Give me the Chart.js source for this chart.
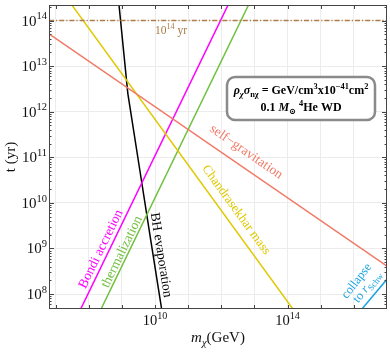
<!DOCTYPE html>
<html>
<head>
<meta charset="utf-8">
<script src="https://cdn.jsdelivr.net/npm/chart.js@4.4.0/dist/chart.umd.min.js"></script>
<style>
  html, body { margin: 0; padding: 0; background: #fff; }
  #wrap { width: 390px; height: 353px; }
</style>
</head>
<body>
<div id="wrap"><canvas id="chart"></canvas></div>
<script>
// ---------------- DATA (m_chi in GeV, t in yr) ----------------
const selfGravM = [6.3e6, 1e17];
const selfGravT = [5.1e13, 4.1e8];

const chandraM = [1e7, 1e15];
const chandraT = [6.8e14, 6.8e6];

const bondiM = [3.16e7, 3.16e12];
const bondiT = [1.94e7, 6.13e14];

const thermM = [1e8, 1e13];
const thermT = [1.3e7, 4.1e14];

const bhEvapM = [7.08e8, 8.17e8, 1.51e9, 3.16e9, 7.41e9, 1.58e10, 1.78e10];
const bhEvapT = [6.3e14, 2.2e14, 2.5e12, 8.1e10, 1.53e9, 4.7e7, 2.75e7];

const collapseM = [1e16, 3.16e17];
const collapseT = [2.9e7, 5.7e8];

const ageM = [6.3e6, 1e17];
const ageT = [1e14, 1e14];

const xRange = [6.3e6, 1e17];
const yRange = [4.7e7, 2.2e14];
const xDecades = [7, 8, 9, 10, 11, 12, 13, 14, 15, 16];
const xLabelled = [10, 14];
const yDecades = [8, 9, 10, 11, 12, 13, 14];

const SERIF = '"Liberation Serif", "DejaVu Serif", serif';

function pts(xs, ys) { return xs.map((x, i) => ({ x: x, y: ys[i] })); }

function line(label, xs, ys, color, extra) {
    return Object.assign({
        label: label,
        data: pts(xs, ys),
        borderColor: color,
        borderWidth: 1.5,
        pointRadius: 0,
        fill: false,
        tension: 0
    }, extra || {});
}

// ---- rich text helper: segments {t, f:'n'|'i'|'b'|'bi', s:0|1(sup)|-1(sub)} ----
function fontOf(sg, size) {
    const sz = sg.s ? size * 0.7 : size;
    const st = (sg.f || 'n');
    const italic = st.indexOf('i') >= 0 ? 'italic ' : '';
    const bold = st.indexOf('b') >= 0 ? 'bold ' : '';
    return italic + bold + sz.toFixed(1) + 'px ' + SERIF;
}
function richWidth(ctx, segs, size) {
    let w = 0;
    segs.forEach(sg => { ctx.font = fontOf(sg, size); w += ctx.measureText(sg.t).width; });
    return w;
}
function richText(ctx, segs, x, y, size, align) {
    const w = richWidth(ctx, segs, size);
    let cx = align === 'right' ? x - w : align === 'center' ? x - w / 2 : x;
    ctx.textAlign = 'left';
    ctx.textBaseline = 'alphabetic';
    segs.forEach(sg => {
        ctx.font = fontOf(sg, size);
        const dy = sg.s === 1 ? -size * 0.42 : sg.s === -1 ? size * 0.25 : 0;
        ctx.fillText(sg.t, cx, y + dy);
        cx += ctx.measureText(sg.t).width;
    });
}

// ---------------- LABELS ON THE CURVES ----------------
const curveLabels = [
    { text: 'Bondi accretion', m: 2.34e8, t: 9.7e8, angle: -64, color: '#ff00ff', size: 13.5 },
    { text: 'thermalization', m: 1.0e9, t: 8.4e8, angle: -64, color: '#72c040', size: 13.5 },
    { text: 'BH evaporation', m: 1.5e10, t: 7.2e8, angle: 81, color: '#000000', size: 13.5 },
    { text: 'Chandrasekhar mass', m: 2.8e12, t: 7.0e9, angle: 54, color: '#e0c800', size: 13 },
    { text: 'self\u2212gravitation', m: 5.6e12, t: 1.31e11, angle: 34.6, color: '#f07a68', size: 13.5 }
];

const overlay = {
    id: 'overlay',
    afterDatasetsDraw(chart) {
        const ctx = chart.ctx;
        const xs = chart.scales.x, ys = chart.scales.y;
        const a = chart.chartArea;
        ctx.save();

        // curve labels
        curveLabels.forEach(l => {
            ctx.save();
            ctx.translate(xs.getPixelForValue(l.m), ys.getPixelForValue(l.t));
            ctx.rotate(l.angle * Math.PI / 180);
            ctx.fillStyle = l.color;
            ctx.font = l.size + 'px ' + SERIF;
            ctx.textAlign = 'center';
            ctx.textBaseline = 'middle';
            ctx.fillText(l.text, 0, 0);
            ctx.restore();
        });

        // collapse to r_Schw (two lines)
        ctx.save();
        ctx.translate(xs.getPixelForValue(1.7e16), ys.getPixelForValue(1.6e8));
        ctx.rotate(-52 * Math.PI / 180);
        ctx.fillStyle = '#1aa3e0';
        ctx.font = '12.5px ' + SERIF;
        ctx.textAlign = 'center';
        ctx.textBaseline = 'middle';
        ctx.fillText('collapse', 0, -6);
        richText(ctx, [{ t: 'to ' }, { t: 'r', f: 'i' }, { t: 'Schw', s: -1 }], 2, 9, 12.5, 'center');
        ctx.restore();

        // 10^14 yr
        ctx.fillStyle = '#a97a45';
        richText(ctx, [{ t: '10' }, { t: '14', s: 1 }, { t: ' yr' }],
            xs.getPixelForValue(3.04e10), ys.getPixelForValue(6.25e13) + 4, 11.5, 'center');

        // info box
        const bx = 227, by = 77, bw = 148, bh = 43, r = 8;
        ctx.beginPath();
        ctx.moveTo(bx + r, by);
        ctx.arcTo(bx + bw, by, bx + bw, by + bh, r);
        ctx.arcTo(bx + bw, by + bh, bx, by + bh, r);
        ctx.arcTo(bx, by + bh, bx, by, r);
        ctx.arcTo(bx, by, bx + bw, by, r);
        ctx.closePath();
        ctx.fillStyle = '#ffffff';
        ctx.fill();
        ctx.lineWidth = 2.5;
        ctx.strokeStyle = '#8a8a8a';
        ctx.stroke();
        ctx.fillStyle = '#000';
        richText(ctx, [
            { t: '\u03c1', f: 'bi' }, { t: '\u03c7', f: 'bi', s: -1 },
            { t: '\u03c3', f: 'bi' }, { t: 'n\u03c7', f: 'b', s: -1 },
            { t: ' = GeV/cm', f: 'b' }, { t: '3', f: 'b', s: 1 },
            { t: 'x10', f: 'b' }, { t: '\u221241', f: 'b', s: 1 },
            { t: 'cm', f: 'b' }, { t: '2', f: 'b', s: 1 }
        ], bx + bw / 2, by + 17, 12, 'center');
        richText(ctx, [
            { t: '0.1 ', f: 'b' }, { t: 'M', f: 'bi' }, { t: '\u2299', f: 'b', s: -1 },
            { t: ' ', f: 'b' }, { t: '4', f: 'b', s: 1 }, { t: 'He WD', f: 'b' }
        ], bx + bw / 2, by + 34, 12, 'center');

        // frame
        ctx.strokeStyle = '#444';
        ctx.lineWidth = 1;
        ctx.strokeRect(a.left + 0.5, a.top + 0.5, a.right - a.left - 1, a.bottom - a.top - 1);

        // ticks
        ctx.beginPath();
        xDecades.forEach(d => {
            const px = Math.round(xs.getPixelForValue(Math.pow(10, d))) + 0.5;
            ctx.moveTo(px, a.bottom); ctx.lineTo(px, a.bottom - 4);
            ctx.moveTo(px, a.top); ctx.lineTo(px, a.top + 4);
        });
        for (let d = 7; d <= 14; d++) {
            for (let k = 1; k <= 9; k++) {
                const v = k * Math.pow(10, d);
                if (v < yRange[0] || v > yRange[1]) continue;
                const py = Math.round(ys.getPixelForValue(v)) + 0.5;
                const len = k === 1 ? 5 : 2.5;
                ctx.moveTo(a.left, py); ctx.lineTo(a.left + len, py);
                ctx.moveTo(a.right, py); ctx.lineTo(a.right - len, py);
            }
        }
        ctx.stroke();

        // tick labels
        ctx.fillStyle = '#111';
        yDecades.forEach(d => {
            const py = ys.getPixelForValue(Math.pow(10, d));
            richText(ctx, [{ t: '10' }, { t: String(d), s: 1 }], a.left - 2, py + 5, 15, 'right');
        });
        xLabelled.forEach(d => {
            const px = xs.getPixelForValue(Math.pow(10, d));
            richText(ctx, [{ t: '10' }, { t: String(d), s: 1 }], px, a.bottom + 16, 14.5, 'center');
        });

        // axis titles
        richText(ctx, [{ t: 'm', f: 'i' }, { t: '\u03c7', f: 'i', s: -1 }, { t: '(GeV)' }],
            (a.left + a.right) / 2, 342, 15, 'center');
        ctx.save();
        ctx.translate(15, (a.top + a.bottom) / 2);
        ctx.rotate(-Math.PI / 2);
        ctx.font = '15px ' + SERIF;
        ctx.textAlign = 'center';
        ctx.textBaseline = 'alphabetic';
        ctx.fillText('t (yr)', 0, 0);
        ctx.restore();

        ctx.restore();
    }
};

new Chart(document.getElementById('chart'), {
    type: 'line',
    data: {
        datasets: [
            line('10^14 yr', ageM, ageT, '#b07d48', { borderDash: [5, 2, 1.2, 2], borderWidth: 1.5 }),
            line('self-gravitation', selfGravM, selfGravT, '#f07a68'),
            line('Chandrasekhar mass', chandraM, chandraT, '#e0c800'),
            line('Bondi accretion', bondiM, bondiT, '#ff00ff'),
            line('thermalization', thermM, thermT, '#72c040'),
            line('BH evaporation', bhEvapM, bhEvapT, '#000000'),
            line('collapse to rSchw', collapseM, collapseT, '#1aa3e0')
        ]
    },
    options: {
        responsive: true,
        maintainAspectRatio: false,
        animation: false,
        devicePixelRatio: 1,
        layout: { padding: { top: 5, right: 3, left: 0, bottom: 0 } },
        plugins: { legend: { display: false }, tooltip: { enabled: false } },
        scales: {
            x: {
                type: 'logarithmic',
                min: xRange[0],
                max: xRange[1],
                afterBuildTicks: s => { s.ticks = xDecades.map(d => ({ value: Math.pow(10, d) })); },
                afterFit: s => { s.height = 44; },
                ticks: { display: false },
                grid: { color: '#ececec', lineWidth: 1, drawTicks: false },
                border: { display: false }
            },
            y: {
                type: 'logarithmic',
                min: yRange[0],
                max: yRange[1],
                afterBuildTicks: s => { s.ticks = yDecades.map(d => ({ value: Math.pow(10, d) })); },
                afterFit: s => { s.width = 49; },
                ticks: { display: false },
                grid: { color: '#ececec', lineWidth: 1, drawTicks: false },
                border: { display: false }
            }
        }
    },
    plugins: [overlay]
});
</script>
</body>
</html>
